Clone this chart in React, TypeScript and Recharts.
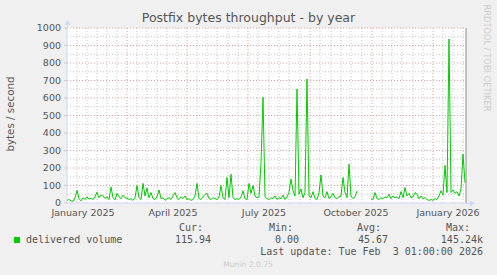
import { LineChart, Line, XAxis, YAxis, ReferenceLine } from 'recharts'

// delivered volume (bytes/s), one sample every 2 days, null = no data
const volume: (number | null)[] = [
  15, 20, 12, 10, 30, 72, 25, 12, 30, 20, 35, 22, 28, 20, 35, 62, 30, 45, 40, 25,
  35, 20, 92, 30, 18, 55, 35, 25, 45, 30, 28, 20, 25, 15, 30, 100, 30, 20, 112, 40,
  85, 30, 60, 25, 20, 35, 75, 25, 30, 15, 25, 30, 20, 40, 60, 30, 20, 35, 25, 40,
  20, 25, 15, 20, 40, 112, 25, 20, 35, 50, 55, 25, 20, 30, 25, 20, 35, 100, 30, 20,
  145, 30, 165, 30, 20, 25, 20, 35, 70, 25, 20, 112, 55, 100, 40, 30, 35, 230, 604, 35,
  25, 20, 30, 25, 40, 20, 30, 25, 45, 20, 35, 60, 137, 70, 40, 651, 50, 80, 30, 60,
  709, 40, 30, 65, 25, 20, 60, 160, 40, 30, 65, 25, 35, 55, 30, 25, 35, 40, 145, 60,
  30, 222, 40, 25, 35, 70, null, null, null, null, null, null, 25, 20, 60, 25, 20, 30, 25, 35,
  30, 50, 25, 40, 30, 35, 25, 65, 30, 88, 40, 55, 30, 35, 60, 50, 25, 40, 25, 30,
  20, 15, 20, 15, 25, 20, 40, 70, 45, 215, 60, 937, 60, 75, 55, 65, 40, 80, 280, 116,
]
const dayStep = 2

const xLabels = ['January 2025', 'April 2025', 'July 2025', 'October 2025', 'January 2026']
const xLabelDays = [16, 106, 197, 289, 381]
const majorDays = [0, 60, 120, 181, 243, 305, 366]
const minorDays = [
  10, 20, 30, 40, 50, 70, 80, 90, 100, 110, 130, 140, 150, 161, 171,
  191, 202, 212, 222, 233, 253, 264, 274, 284, 295, 315, 325, 335, 346, 356,
  376, 386, 396,
]
const yTicks = [0, 100, 200, 300, 400, 500, 600, 700, 800, 900, 1000]
const yMinor = [50, 150, 250, 350, 450, 550, 650, 750, 850, 950]

const data = volume.map((v, i) => ({ day: i * dayStep, value: v }))

const TEXT = '#555'
const AXIS = '#cfd6f8'
const SANS = 'DejaVu Sans'
const MONO = 'DejaVu Sans Mono'

export default function App() {
  return (
    <div style={{ position: 'fixed', left: 0, top: 0, width: 497, height: 275, background: '#f0f0f0' }}>
      <LineChart width={497} height={275} data={data} margin={{ top: 28, right: 31, bottom: 52, left: 10 }}>
        <rect x={67} y={28} width={399} height={175} fill="#fff" />
        <XAxis
          type="number"
          dataKey="day"
          domain={[0, 399]}
          ticks={xLabelDays}
          tickFormatter={(d) => xLabels[xLabelDays.indexOf(d)] ?? ''}
          interval={0}
          height={20}
          tickLine={false}
          tickSize={0}
          tickMargin={6}
          axisLine={{ stroke: AXIS }}
          tick={{ fill: TEXT, fontSize: 9.5, fontFamily: SANS }}
        />
        <YAxis
          domain={[0, 1000]}
          ticks={yTicks}
          interval={0}
          width={57}
          tickSize={3}
          tickMargin={3}
          tickLine={{ stroke: '#ccc' }}
          axisLine={{ stroke: AXIS }}
          tick={{ fill: TEXT, fontSize: 9.5, fontFamily: SANS }}
        />
        {yMinor.map((v) => (
          <ReferenceLine key={'ym' + v} y={v} stroke="#c4c4c4" strokeDasharray="1 2" />
        ))}
        {minorDays.map((d) => (
          <ReferenceLine key={'xm' + d} x={d} stroke="#c4c4c4" strokeDasharray="1 2" />
        ))}
        {yTicks.slice(1).map((v) => (
          <ReferenceLine key={'yM' + v} y={v} stroke="#e89a9a" strokeDasharray="1 2" />
        ))}
        {majorDays.slice(1).map((d) => (
          <ReferenceLine key={'xM' + d} x={d} stroke="#e89a9a" strokeDasharray="1 2" />
        ))}
        <ReferenceLine x={399} stroke="#888" />
        <Line
          type="linear"
          dataKey="value"
          stroke="#00cc00"
          strokeWidth={1}
          dot={false}
          isAnimationActive={false}
        />
      </LineChart>
      <svg width={497} height={275} style={{ position: 'absolute', left: 0, top: 0, pointerEvents: 'none' }}>
        {/* axis arrows */}
        <line x1={67.5} y1={28} x2={67.5} y2={24} stroke={AXIS} />
        <path d="M64.5,25 L67.5,20 L70.5,25 z" fill={AXIS} />
        <line x1={466} y1={203.5} x2={471} y2={203.5} stroke={AXIS} />
        <path d="M470,200.5 L475,203.5 L470,206.5 z" fill={AXIS} />
        <text x={248.5} y={22} textAnchor="middle" fontSize={12.5} fontFamily={SANS} fill={TEXT}>
          Postfix bytes throughput - by year
        </text>
        <text
          x={10}
          y={114}
          transform="rotate(-90 10 114)"
          textAnchor="middle"
          dominantBaseline="central"
          fontSize={10.3}
          fontFamily={SANS}
          fill={TEXT}
        >
          bytes / second
        </text>
        <text
          x={487}
          y={58}
          transform="rotate(90 487 58)"
          textAnchor="middle"
          dominantBaseline="central"
          fontSize={8.3}
          fontFamily={SANS}
          fill="#ccc"
        >
          RRDTOOL / TOBI OETIKER
        </text>
        <rect x={14} y={237} width={6} height={6} fill="#00cc00" />
        <g fontFamily={MONO} fontSize={10} fill={TEXT}>
          <text x={26} y={243}>delivered volume</text>
          <text x={203} y={231} textAnchor="end">Cur:</text>
          <text x={211} y={243} textAnchor="end">115.94</text>
          <text x={293} y={231} textAnchor="end">Min:</text>
          <text x={299} y={243} textAnchor="end">0.00</text>
          <text x={381} y={231} textAnchor="end">Avg:</text>
          <text x={388} y={243} textAnchor="end">45.67</text>
          <text x={470} y={231} textAnchor="end">Max:</text>
          <text x={483} y={243} textAnchor="end">145.24k</text>
          <text x={483} y={255} textAnchor="end" xmlSpace="preserve" style={{ whiteSpace: 'pre' }}>
            {'Last update: Tue Feb  3 01:00:00 2026'}
          </text>
        </g>
        <text x={248} y={267} textAnchor="middle" fontSize={7.6} fontFamily={SANS} fill="#ccc">
          Munin 2.0.75
        </text>
      </svg>
    </div>
  )
}
